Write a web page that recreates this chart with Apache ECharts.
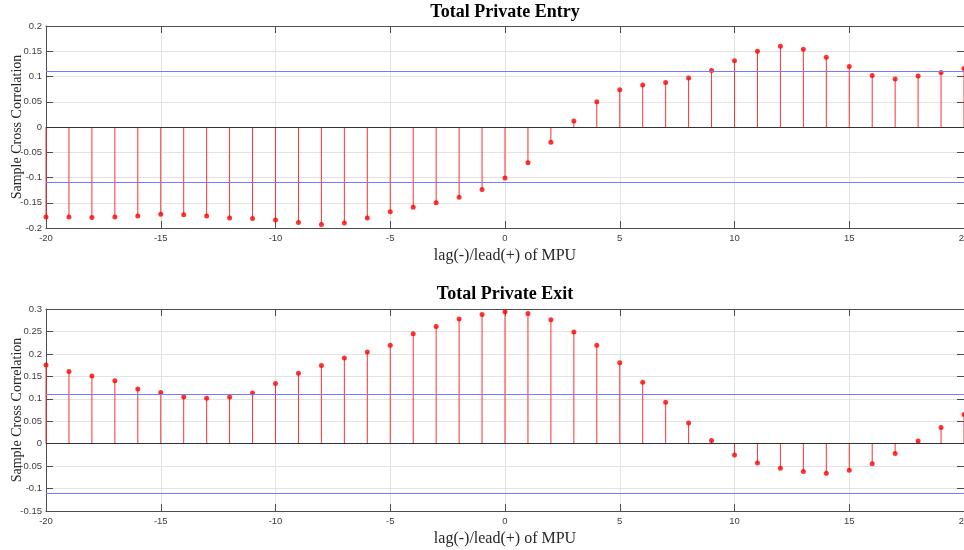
<!DOCTYPE html>
<html>
<head>
<meta charset="utf-8">
<script src="https://cdn.jsdelivr.net/npm/echarts@6/dist/echarts.min.js"></script>
<style>
  html, body { margin: 0; padding: 0; background: #fff; }
  #chart { width: 964px; height: 550px; }
</style>
</head>
<body>
<div id="chart"></div>
<script>
// lags of MPU, -20 .. 20
var lags = [-20, -19, -18, -17, -16, -15, -14, -13, -12, -11, -10, -9, -8, -7, -6, -5, -4, -3, -2, -1,
  0, 1, 2, 3, 4, 5, 6, 7, 8, 9, 10, 11, 12, 13, 14, 15, 16, 17, 18, 19, 20];

// sample cross correlation, Total Private Entry
var entryXcf = [-0.178, -0.178, -0.179, -0.178, -0.176, -0.173, -0.174, -0.176, -0.180, -0.181,
  -0.184, -0.189, -0.193, -0.190, -0.180, -0.168, -0.159, -0.150, -0.139, -0.124,
  -0.101, -0.071, -0.030, 0.012, 0.050, 0.074, 0.083, 0.088, 0.097, 0.112,
  0.131, 0.150, 0.160, 0.154, 0.138, 0.120, 0.102, 0.095, 0.101, 0.108, 0.116];

// sample cross correlation, Total Private Exit
var exitXcf = [0.175, 0.161, 0.151, 0.140, 0.122, 0.114, 0.104, 0.101, 0.104, 0.113,
  0.134, 0.157, 0.174, 0.191, 0.204, 0.219, 0.245, 0.261, 0.278, 0.288,
  0.294, 0.290, 0.276, 0.249, 0.219, 0.180, 0.137, 0.092, 0.046, 0.007,
  -0.025, -0.043, -0.055, -0.062, -0.066, -0.059, -0.045, -0.022, 0.006, 0.036, 0.065];

// confidence bounds
var bounds = [0.106, -0.106];

var titles = ['Total Private Entry', 'Total Private Exit'];
var xName = 'lag(-)/lead(+) of MPU';
var yName = 'Sample Cross Correlation';

var yRanges = [
  { min: -0.2, max: 0.2, interval: 0.05 },
  { min: -0.15, max: 0.3, interval: 0.05 }
];

var chart = echarts.init(document.getElementById('chart'));

var tickFont = { fontFamily: 'Liberation Sans', fontSize: 9.5, color: '#3c3c3c' };
var frameColor = '#4d4d4d';

function pairs(vals) {
  return lags.map(function (l, i) { return [l, vals[i]]; });
}

function fmt(v) {
  return String(+v.toFixed(2));
}

var grids = [
  { left: 46, right: 0, top: 26, height: 202, containLabel: false, outerBoundsMode: 'none' },
  { left: 46, right: 0, top: 309, height: 202, containLabel: false, outerBoundsMode: 'none' }
];

var xAxes = [], yAxes = [], series = [];

[entryXcf, exitXcf].forEach(function (vals, g) {
  // bottom x axis with labels
  xAxes.push({
    gridIndex: g, type: 'value', min: -20, max: 20, interval: 5, position: 'bottom',
    axisLine: { onZero: false, lineStyle: { color: frameColor, width: 1 } },
    axisTick: { inside: true, length: 7, lineStyle: { color: frameColor } },
    axisLabel: Object.assign({ margin: 5, formatter: fmt }, tickFont),
    splitLine: { show: true, lineStyle: { color: '#e3e3e3', width: 1 } },
    name: xName, nameLocation: 'middle', nameGap: 20, nameMoveOverlap: false,
    nameTextStyle: { fontFamily: 'Liberation Serif', fontSize: 16, color: '#262626' }
  });
  // top frame
  xAxes.push({
    gridIndex: g, type: 'value', min: -20, max: 20, interval: 5, position: 'top',
    axisLine: { onZero: false, lineStyle: { color: frameColor, width: 1 } },
    axisTick: { inside: true, length: 7, lineStyle: { color: frameColor } },
    axisLabel: { show: false }, splitLine: { show: false }
  });
  var r = yRanges[g];
  yAxes.push({
    gridIndex: g, type: 'value', min: r.min, max: r.max, interval: r.interval, position: 'left',
    axisLine: { show: true, onZero: false, lineStyle: { color: frameColor, width: 1 } },
    axisTick: { show: true, inside: true, length: 7, lineStyle: { color: frameColor } },
    axisLabel: Object.assign({ margin: 4, formatter: fmt }, tickFont),
    splitLine: { show: true, lineStyle: { color: '#e3e3e3', width: 1 } },
    name: yName, nameLocation: 'middle', nameGap: 22, nameRotate: 90, nameMoveOverlap: false,
    nameTextStyle: { fontFamily: 'Liberation Serif', fontSize: 14, color: '#262626' }
  });
  yAxes.push({
    gridIndex: g, type: 'value', min: r.min, max: r.max, interval: r.interval, position: 'right',
    axisLine: { show: true, onZero: false, lineStyle: { color: frameColor, width: 1 } },
    axisTick: { show: true, inside: true, length: 7, lineStyle: { color: frameColor } },
    axisLabel: { show: false }, splitLine: { show: false }
  });

  // stems
  series.push({
    type: 'bar', xAxisIndex: g * 2, yAxisIndex: g * 2,
    barWidth: 1, data: pairs(vals),
    itemStyle: { color: '#ff3030' }
  });
  // markers + zero line + bounds
  series.push({
    type: 'scatter', xAxisIndex: g * 2, yAxisIndex: g * 2,
    symbol: 'circle', symbolSize: 5, data: pairs(vals),
    itemStyle: { color: '#ff0000' },
    markLine: {
      silent: true, symbol: 'none', label: { show: false },
      data: [
        { yAxis: 0, lineStyle: { color: '#333', width: 1, type: 'solid' } },
        { yAxis: bounds[0], lineStyle: { color: '#7a7aff', width: 1, type: 'solid' } },
        { yAxis: bounds[1], lineStyle: { color: '#7a7aff', width: 1, type: 'solid' } }
      ]
    }
  });
});

var option = {
  animation: false,
  backgroundColor: '#fff',
  grid: grids,
  xAxis: xAxes,
  yAxis: yAxes,
  series: series,
  graphic: titles.map(function (t, i) {
    return {
      type: 'text', x: 505, y: i === 0 ? 12 : 294,
      style: {
        text: t, textAlign: 'center', textVerticalAlign: 'middle',
        fontFamily: 'Liberation Serif', fontWeight: 'bold', fontSize: 18, fill: '#000'
      }
    };
  })
};

chart.setOption(option);
</script>
</body>
</html>
